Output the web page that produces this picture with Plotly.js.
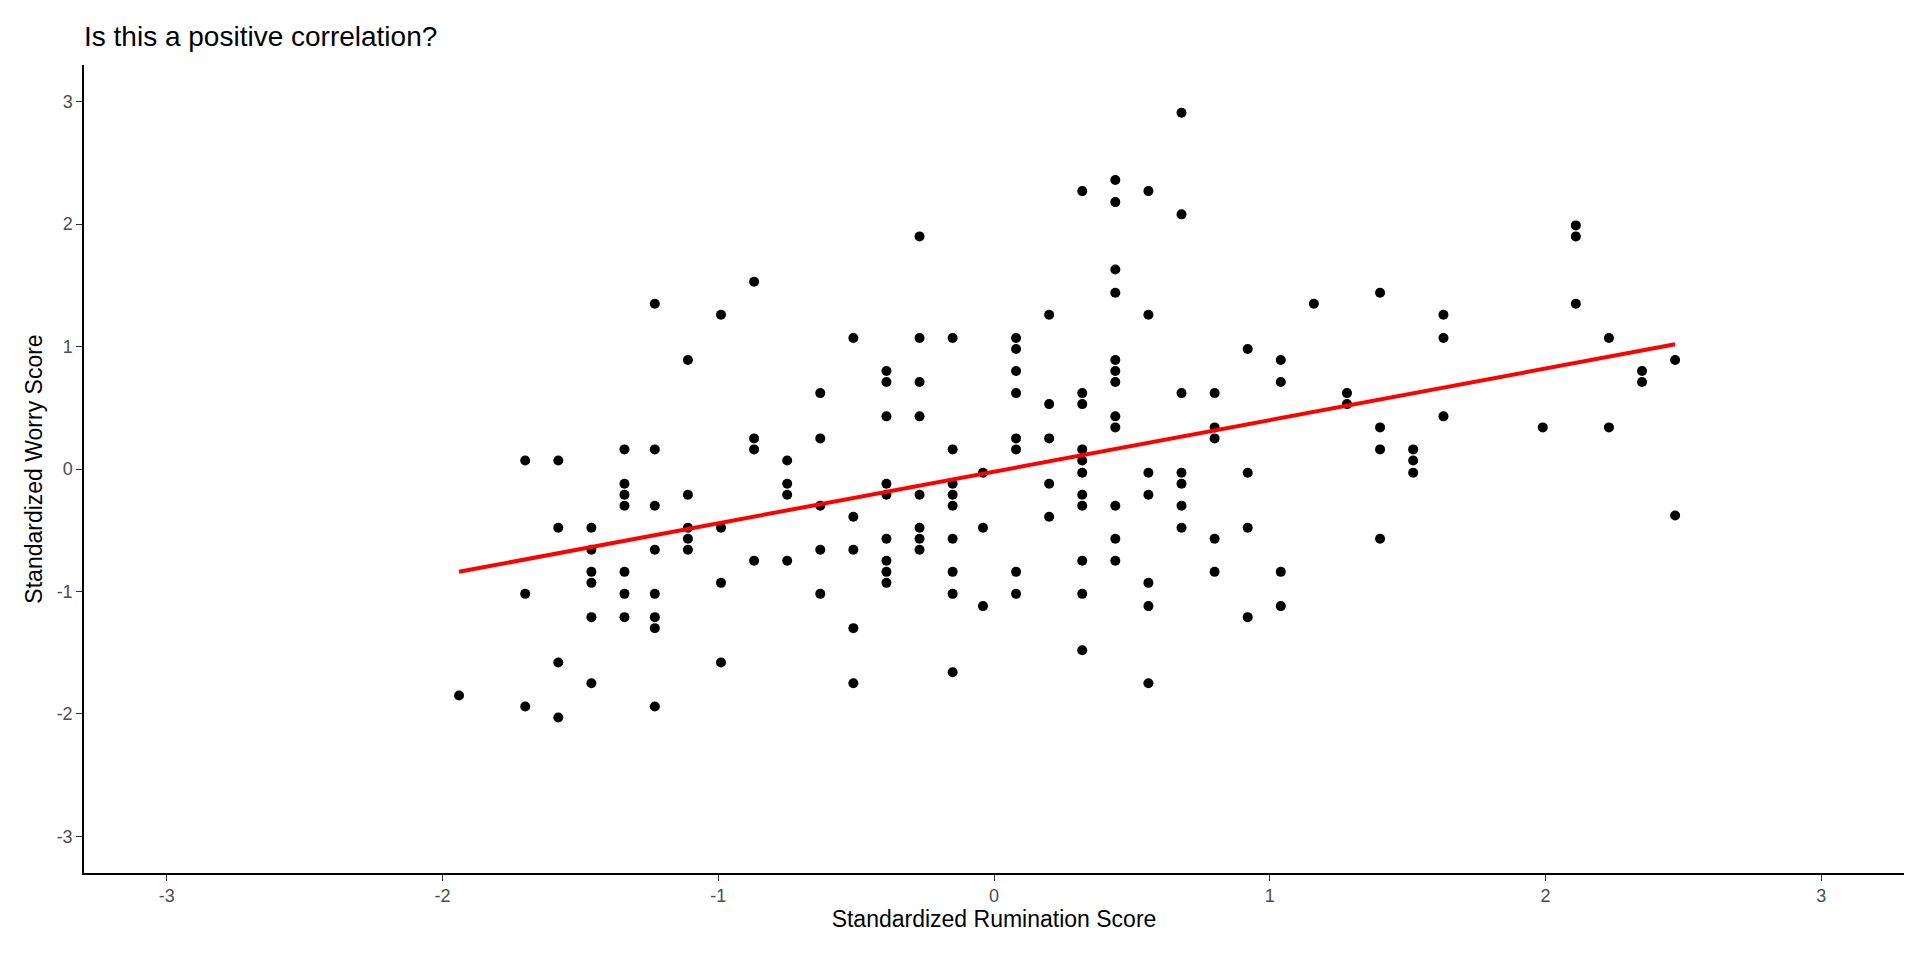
<!DOCTYPE html>
<html>
<head>
<meta charset="utf-8">
<script src="https://cdn.plot.ly/plotly-3.0.1.min.js"></script>
<style>
  html, body { margin: 0; padding: 0; background: #fff; }
  #chart { width: 1920px; height: 960px; }
</style>
</head>
<body>
<div id="chart"></div>
<script>
// Rumination score columns and the worry scores observed at each
const rumination = [-1.94, -1.70, -1.58, -1.46, -1.34, -1.23, -1.11, -0.99, -0.87, -0.75,
  -0.63, -0.51, -0.39, -0.27, -0.15, -0.04, 0.08, 0.20, 0.32, 0.44, 0.56, 0.68, 0.80,
  0.92, 1.04, 1.16, 1.28, 1.40, 1.52, 1.63, 1.99, 2.11, 2.23, 2.35, 2.47];
const worry = [
  [-1.85],
  [0.07, -1.02, -1.94],
  [0.07, -0.48, -1.58, -2.03],
  [-0.48, -0.66, -0.84, -0.93, -1.21, -1.75],
  [0.16, -0.12, -0.21, -0.30, -0.84, -1.02, -1.21],
  [1.35, 0.16, -0.30, -0.66, -1.02, -1.21, -1.30, -1.94],
  [0.89, -0.21, -0.48, -0.57, -0.66],
  [1.26, -0.48, -0.93, -1.58],
  [1.53, 0.25, 0.16, -0.75],
  [0.07, -0.12, -0.21, -0.75],
  [0.62, 0.25, -0.30, -0.66, -1.02],
  [1.07, -0.39, -0.66, -1.30, -1.75],
  [0.80, 0.71, 0.43, -0.12, -0.21, -0.57, -0.75, -0.84, -0.93],
  [1.90, 1.07, 0.71, 0.43, -0.21, -0.48, -0.57, -0.66],
  [1.07, 0.16, -0.12, -0.21, -0.30, -0.57, -0.84, -1.02, -1.66],
  [-0.03, -0.48, -1.12],
  [1.07, 0.98, 0.80, 0.62, 0.25, 0.16, -0.84, -1.02],
  [1.26, 0.53, 0.25, -0.12, -0.39],
  [2.27, 0.62, 0.53, 0.16, 0.07, -0.03, -0.21, -0.30, -0.75, -1.02, -1.48],
  [2.36, 2.18, 1.63, 1.44, 0.89, 0.80, 0.71, 0.43, 0.34, -0.30, -0.57, -0.75],
  [2.27, 1.26, -0.03, -0.21, -0.93, -1.12, -1.75],
  [2.91, 2.08, 0.62, -0.03, -0.12, -0.30, -0.48],
  [0.62, 0.34, 0.25, -0.57, -0.84],
  [0.98, -0.03, -0.48, -1.21],
  [0.89, 0.71, -0.84, -1.12],
  [1.35],
  [0.62, 0.53],
  [1.44, 0.34, 0.16, -0.57],
  [0.16, 0.07, -0.03],
  [1.26, 1.07, 0.43],
  [0.34],
  [1.99, 1.90, 1.35],
  [1.07, 0.34],
  [0.80, 0.71],
  [0.89, -0.38]
];
const tickVals = [-3, -2, -1, 0, 1, 2, 3];
const tickText = ["-3", "-2", "-1", "0", "1", "2", "3"];

// Flatten into point lists
const xs = [], ys = [];
rumination.forEach((r, i) => worry[i].forEach(w => { xs.push(r); ys.push(w); }));

// Least-squares fit line (geom_smooth method = "lm")
const n = xs.length;
const mx = xs.reduce((a, b) => a + b, 0) / n;
const my = ys.reduce((a, b) => a + b, 0) / n;
let sxy = 0, sxx = 0;
for (let i = 0; i < n; i++) { sxy += (xs[i] - mx) * (ys[i] - my); sxx += (xs[i] - mx) ** 2; }
const slope = sxy / sxx, icpt = my - slope * mx;
const xMin = Math.min(...xs), xMax = Math.max(...xs);

const FONT = "Liberation Sans, Arial, sans-serif";
const axisBase = {
  range: [-3.3, 3.3],
  tickvals: tickVals,
  ticktext: tickText,
  showgrid: false,
  zeroline: false,
  showline: true,
  linecolor: "#000",
  linewidth: 1.5,
  ticks: "outside",
  ticklen: 6,
  tickcolor: "#333",
  tickfont: { family: FONT, size: 18, color: "#4d4d4d" },
};

Plotly.newPlot("chart", [
  {
    type: "scatter", mode: "markers", x: xs, y: ys,
    marker: { color: "#000", size: 10 },
    hoverinfo: "x+y",
  },
  {
    type: "scatter", mode: "lines",
    x: [xMin, xMax], y: [icpt + slope * xMin, icpt + slope * xMax],
    line: { color: "#ff0000", width: 4 },
  }
], {
  width: 1920, height: 960,
  paper_bgcolor: "#fff", plot_bgcolor: "#fff",
  margin: { t: 65, r: 16, b: 87, l: 84 },
  showlegend: false,
  title: { text: "Is this a positive correlation?", x: 84 / 1920, xanchor: "left", y: 0.972,
           font: { family: FONT, size: 28, color: "#000" } },
  xaxis: { ...axisBase, title: { text: "Standardized Rumination Score", standoff: 6,
           font: { family: FONT, size: 23, color: "#000" } } },
  yaxis: { ...axisBase, title: { text: "Standardized Worry Score", standoff: 8,
           font: { family: FONT, size: 23, color: "#000" } } },
}, { displayModeBar: false });
</script>
</body>
</html>
